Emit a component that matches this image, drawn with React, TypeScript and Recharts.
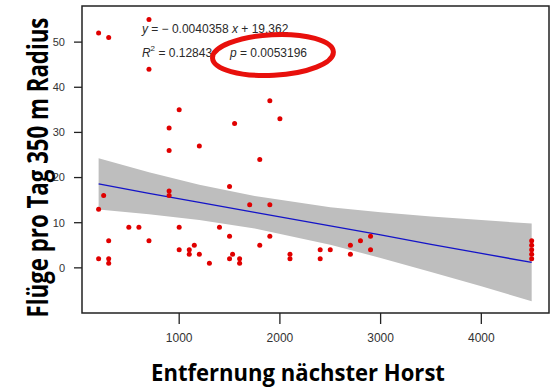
import { useLayoutEffect, useRef, useState } from 'react';
import {
  ComposedChart,
  Scatter,
  Area,
  Line,
  XAxis,
  YAxis,
  ReferenceArea,
  ReferenceDot,
} from 'recharts';

// Beobachtungen: Entfernung zum nächsten Horst (m) und Flüge pro Tag
const distX = [
  200, 300, 700, 700, 1000, 900, 1550, 1900, 2000, 1200, 900, 1800, 1500, 900, 900, 250,
  200, 1700, 1900, 500, 600, 1000, 1400, 300, 700, 1500, 1900, 1800, 1000, 1100, 1150,
  1100, 1200, 200, 300, 300, 1300, 1500, 1530, 1600, 1600, 2100, 2100, 2400, 2500, 2400,
  2700, 2700, 2800, 2900, 2900, 4500, 4500, 4500, 4500, 4500,
];
const fluege = [
  52, 51, 55, 44, 35, 31, 32, 37, 33, 27, 26, 24, 18, 17, 16, 16,
  13, 14, 14, 9, 9, 9, 9, 6, 6, 7, 7, 5, 4, 4, 5,
  3, 3, 2, 2, 1, 1, 2, 3, 2, 1, 3, 2, 4, 4, 2,
  5, 3, 6, 7, 4, 2, 3, 4, 5, 6,
];

// Regressionsgerade und Konfidenzband
const bandX = [200, 700, 1200, 1750, 2500, 3000, 3500, 4000, 4500];
const bandLow = [12.9, 11.9, 10.6, 8.7, 5.1, 2.2, -0.9, -4.1, -7.4];
const bandHigh = [24.3, 21.2, 18.4, 15.9, 13.4, 12.3, 11.4, 10.6, 9.8];
const fitY = [18.6, 16.5, 14.5, 12.3, 9.3, 7.3, 5.2, 3.2, 1.2];

const xTicks = [1000, 2000, 3000, 4000];
const yTicks = [0, 10, 20, 30, 40, 50];

const X_DOMAIN = [35, 4672];
const Y_DOMAIN = [-10, 58];

const points = distX.map((x, i) => ({ x, y: fluege[i] }));
const bandData = bandX.map((x, i) => ({ x, band: [bandLow[i], bandHigh[i]], fit: fitY[i] }));

const Dot = (p: any) => <circle cx={p.cx} cy={p.cy} r={2.5} fill="#e00000" />;

// schmal gezogener Titeltext (gemessen, dann auf Zielbreite skaliert)
function NarrowText({ x, y, width, rotate = 0, fontSize, children }: any) {
  const ref = useRef<SVGTextElement>(null);
  const [sx, setSx] = useState(1);
  useLayoutEffect(() => {
    if (ref.current) {
      const len = ref.current.getComputedTextLength();
      if (len > 0) setSx(width / len);
    }
  }, [width]);
  return (
    <g transform={`translate(${x} ${y}) rotate(${rotate}) scale(${sx} 1)`}>
      <text
        ref={ref}
        x={0}
        y={0}
        textAnchor="middle"
        fontFamily="'Open Sans', sans-serif"
        fontWeight={700}
        fontSize={fontSize}
        fill="#000"
      >
        {children}
      </text>
    </g>
  );
}

const YTitle = ({ viewBox }: any) => (
  <NarrowText
    x={viewBox.x + 48}
    y={viewBox.y + viewBox.height / 2 + 8}
    rotate={-90}
    width={300}
    fontSize={29}
  >
    Flüge pro Tag 350 m Radius
  </NarrowText>
);

const XTitle = ({ viewBox }: any) => (
  <NarrowText x={viewBox.x + viewBox.width / 2 - 17.5} y={viewBox.y + 68} width={294} fontSize={24}>
    Entfernung  nächster Horst
  </NarrowText>
);

// Gleichung + R² / p-Wert oben links
const Equation = (p: any) => (
  <g fontFamily="'Liberation Sans', Arial, sans-serif" fontSize={12} fill="#2a2a2a">
    <text x={p.cx} y={p.cy}>
      <tspan fontStyle="italic">y</tspan>
      <tspan> = − 0.0040358 </tspan>
      <tspan fontStyle="italic">x</tspan>
      <tspan> + 19.362</tspan>
    </text>
    <text x={p.cx} y={p.cy + 24}>
      <tspan fontStyle="italic">R</tspan>
      <tspan dy={-6} fontSize={8}>2</tspan>
      <tspan dy={6}> = 0.12843,</tspan>
    </text>
    <text x={p.cx + 88} y={p.cy + 24}>
      <tspan fontStyle="italic">p</tspan>
      <tspan>  = 0.0053196</tspan>
    </text>
  </g>
);

const Circle = (p: any) => (
  <ellipse
    cx={p.cx}
    cy={p.cy}
    rx={60.5}
    ry={20.3}
    transform={`rotate(-3 ${p.cx} ${p.cy})`}
    fill="none"
    stroke="#e8100c"
    strokeWidth={5}
  />
);

export default function App() {
  return (
    <div style={{ position: 'absolute', left: 0, top: 0, background: '#fff' }}>
      <ComposedChart
        width={552}
        height={387}
        data={bandData}
        margin={{ top: 6, right: 3, bottom: 0, left: 0 }}
      >
        <XAxis
          type="number"
          dataKey="x"
          domain={X_DOMAIN}
          allowDataOverflow
          ticks={xTicks}
          height={74}
          axisLine={false}
          tickSize={11}
          tickMargin={9}
          tickLine={{ stroke: '#222', strokeWidth: 1.3 }}
          tick={{ fill: '#333', fontSize: 12, fontFamily: "'Liberation Sans', Arial, sans-serif" }}
          label={{ content: XTitle }}
        />
        <YAxis
          type="number"
          domain={Y_DOMAIN}
          allowDataOverflow
          ticks={yTicks}
          width={82}
          axisLine={false}
          tickSize={8}
          tickMargin={9}
          tickLine={{ stroke: '#222', strokeWidth: 1.3 }}
          tick={{ fill: '#333', fontSize: 11, fontFamily: "'Liberation Sans', Arial, sans-serif" }}
          label={{ content: YTitle }}
        />
        <Area
          type="linear"
          dataKey="band"
          stroke="none"
          fill="#bebebe"
          fillOpacity={1}
          isAnimationActive={false}
        />
        <Line
          type="linear"
          dataKey="fit"
          stroke="#1414c8"
          strokeWidth={1.4}
          dot={false}
          isAnimationActive={false}
        />
        <Scatter data={points} dataKey="y" shape={Dot} isAnimationActive={false} />
        <ReferenceArea
          x1={X_DOMAIN[0]}
          x2={X_DOMAIN[1]}
          y1={Y_DOMAIN[0]}
          y2={Y_DOMAIN[1]}
          fill="none"
          stroke="#222"
          strokeWidth={1.5}
        />
        <ReferenceDot x={630} y={52} shape={Equation} />
        <ReferenceDot x={1931} y={47.15} shape={Circle} />
      </ComposedChart>
    </div>
  );
}
